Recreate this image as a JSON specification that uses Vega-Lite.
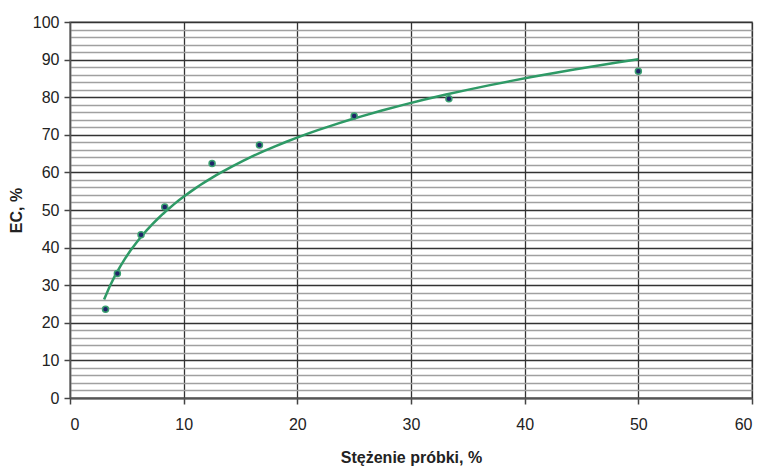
{
  "$schema": "https://vega.github.io/schema/vega-lite/v6.json",
  "width": 682,
  "height": 376,
  "autosize": {"type": "none"},
  "padding": {"left": 70, "top": 22, "right": 11, "bottom": 69},
  "background": "white",
  "config": {
    "font": "Liberation Sans",
    "view": {"stroke": "#999999", "strokeWidth": 1.5},
    "axis": {"labelFont": "Liberation Sans", "titleFont": "Liberation Sans", "labelColor": "#222", "titleColor": "#222"}
  },
  "data": {
    "values": [
      {"conc": 3.125, "ec": 23.6},
      {"conc": 4.167, "ec": 33.1},
      {"conc": 6.25, "ec": 43.4},
      {"conc": 8.333, "ec": 50.8},
      {"conc": 12.5, "ec": 62.4},
      {"conc": 16.667, "ec": 67.3},
      {"conc": 25.0, "ec": 75.0},
      {"conc": 33.333, "ec": 79.6},
      {"conc": 50.0, "ec": 86.9}
    ]
  },
  "layer": [
    {
      "transform": [
        {"regression": "ec", "on": "conc", "method": "log", "extent": [3.0, 50.0]}
      ],
      "mark": {"type": "line", "color": "#2e9a66", "strokeWidth": 2.5, "clip": true},
      "encoding": {
        "x": {
          "field": "conc", "type": "quantitative",
          "scale": {"domain": [0, 60], "nice": false, "zero": false},
          "axis": {
            "title": "Stężenie próbki, %",
            "titleFontSize": 16, "titleFontWeight": "bold", "titlePadding": 17,
            "values": [0, 10, 20, 30, 40, 50, 60], "tickCount": 20, "format": "d",
            "labelFontSize": 16, "labelPadding": 12,
            "tickSize": 6, "tickColor": "#444", "tickWidth": 1.5,
            "domainColor": "#555", "domainWidth": 2,
            "grid": true, "gridColor": "#333", "gridWidth": 1.3
          }
        },
        "y": {
          "field": "ec", "type": "quantitative",
          "scale": {"domain": [0, 100], "nice": false},
          "axis": {
            "title": "EC, %",
            "titleFontSize": 16, "titleFontWeight": "bold", "titlePadding": 8,
            "values": [0,2,4,6,8,10,12,14,16,18,20,22,24,26,28,30,32,34,36,38,40,42,44,46,48,50,52,54,56,58,60,62,64,66,68,70,72,74,76,78,80,82,84,86,88,90,92,94,96,98,100],
            "tickCount": 200, "format": "d",
            "labelOverlap": false,
            "labelExpr": "datum.value % 10 === 0 ? datum.label : ''",
            "labelFontSize": 16, "labelPadding": 5,
            "tickSize": 6, "tickColor": "#444", "tickWidth": 1.5,
            "tickOpacity": {"condition": {"test": "datum.value % 10 === 0", "value": 1}, "value": 0},
            "domainColor": "#555", "domainWidth": 1.5,
            "grid": true,
            "gridColor": {"condition": {"test": "datum.value % 10 === 0", "value": "#333333"}, "value": "#a0a0a0"},
            "gridWidth": {"condition": {"test": "datum.value % 10 === 0", "value": 1.3}, "value": 1.6}
          }
        }
      }
    },
    {
      "mark": {"type": "point", "filled": true, "size": 36, "color": "#1f2468", "stroke": "#3aa070", "strokeWidth": 1.5, "opacity": 1},
      "encoding": {
        "x": {"field": "conc", "type": "quantitative"},
        "y": {"field": "ec", "type": "quantitative"}
      }
    }
  ]
}
